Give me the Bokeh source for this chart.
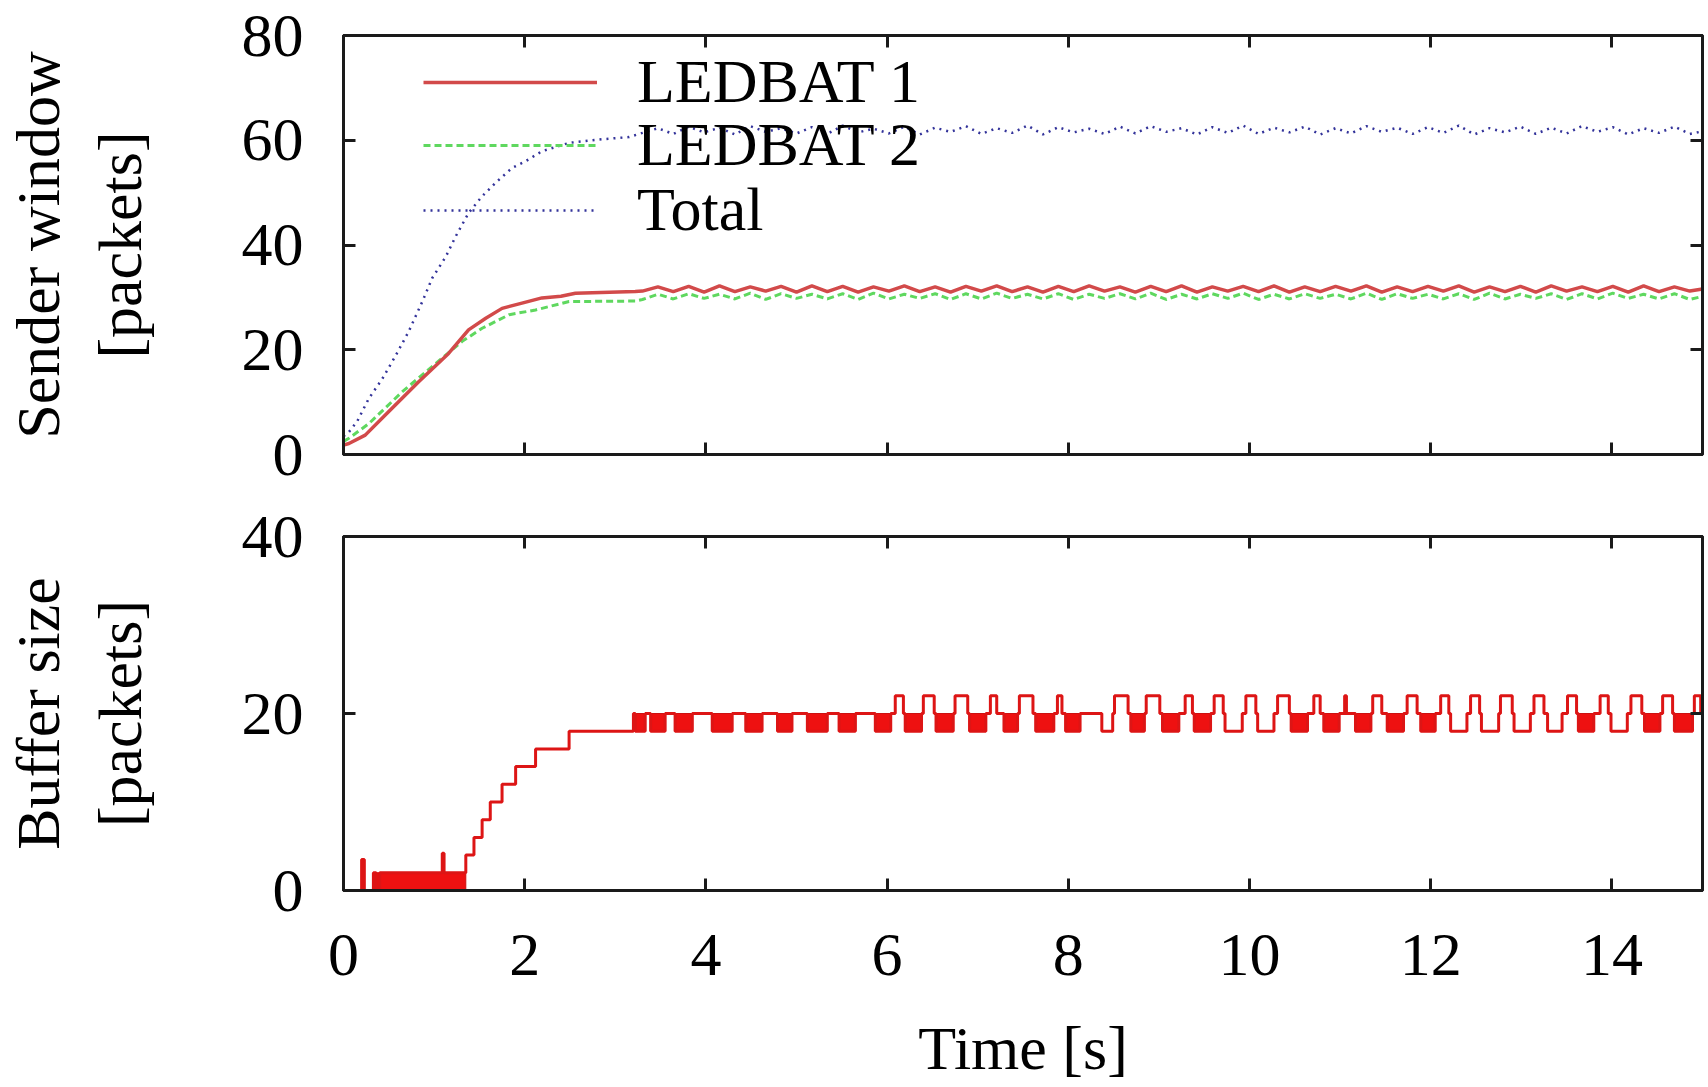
from bokeh.plotting import figure
from bokeh.layouts import column
from bokeh.models import LinearAxis, FixedTicker, Legend, LegendItem, Range1d, CustomJSTickFormatter
from bokeh.embed import file_html
from bokeh.resources import INLINE

FONT = "Liberation Serif"

# ---------------- data ----------------
x_ticks = [0, 2, 4, 6, 8, 10, 12, 14]
top_y_ticks = [0, 20, 40, 60, 80]
bot_y_ticks = [0, 20, 40]

series_names = ["LEDBAT 1", "LEDBAT 2", "Total"]

# start-up phase
red_ramp_t = [0.0, 0.06, 0.24, 0.50, 0.83, 1.16, 1.38, 1.57, 1.75, 1.97, 2.19, 2.40, 2.56, 3.22]
red_ramp_v = [1.8, 2.1, 3.7, 8.2, 13.9, 19.3, 23.8, 26.0, 27.9, 28.9, 29.9, 30.2, 30.8, 31.1]

green_ramp_t = [0.0, 0.06, 0.28, 0.65, 1.02, 1.31, 1.53, 1.83, 2.12, 2.49, 3.22]
green_ramp_v = [2.5, 3.1, 5.9, 12.0, 17.4, 21.6, 24.1, 26.7, 27.6, 29.2, 29.3]

total_ramp_t = [0.0, 0.06, 0.15, 0.28, 0.43, 0.57, 0.72, 0.87, 0.98, 1.13, 1.24, 1.38,
                1.53, 1.68, 1.86, 2.01, 2.19, 2.49, 2.86, 3.15]
total_ramp_v = [3.5, 4.3, 6.3, 10.7, 14.5, 18.7, 23.5, 29.2, 33.7, 37.8, 41.7, 46.1,
                49.3, 51.9, 54.7, 56.0, 57.9, 59.5, 60.2, 60.6]

# steady phase
osc_t = [3.30, 3.47, 3.64, 3.81, 3.98, 4.15, 4.32, 4.49, 4.66, 4.83,
         5.00, 5.17, 5.34, 5.51, 5.68, 5.85, 6.02, 6.19, 6.36, 6.53,
         6.70, 6.87, 7.04, 7.21, 7.38, 7.55, 7.72, 7.89, 8.06, 8.23,
         8.40, 8.57, 8.74, 8.91, 9.08, 9.25, 9.42, 9.59, 9.76, 9.93,
         10.10, 10.27, 10.44, 10.61, 10.78, 10.95, 11.12, 11.29, 11.46, 11.63,
         11.80, 11.97, 12.14, 12.31, 12.48, 12.65, 12.82, 12.99, 13.16, 13.33,
         13.50, 13.67, 13.84, 14.01, 14.18, 14.35, 14.52, 14.69, 14.86, 15.00]
red_osc = [31.2, 32.0, 31.1, 32.1, 31.0, 32.2, 31.1, 32.0, 31.2, 32.1,
           31.0, 32.2, 31.1, 32.1, 31.0, 32.0, 31.2, 32.2, 31.1, 32.0,
           31.0, 32.1, 31.2, 32.2, 31.1, 32.0, 31.0, 32.1, 31.1, 32.2,
           31.2, 32.0, 31.0, 32.1, 31.1, 32.2, 31.0, 32.0, 31.2, 32.1,
           31.1, 32.2, 31.0, 32.0, 31.1, 32.1, 31.2, 32.2, 31.0, 32.0,
           31.1, 32.1, 31.2, 32.2, 31.0, 32.0, 31.1, 32.1, 31.0, 32.2,
           31.2, 32.0, 31.1, 32.1, 31.0, 32.2, 31.1, 32.0, 31.2, 31.6]
green_osc = [29.6, 30.6, 29.7, 30.7, 29.8, 30.6, 29.7, 30.8, 29.6, 30.7,
             29.8, 30.6, 29.7, 30.7, 29.6, 30.8, 29.7, 30.6, 29.8, 30.7,
             29.6, 30.7, 29.7, 30.8, 29.8, 30.6, 29.7, 30.7, 29.6, 30.6,
             29.8, 30.7, 29.7, 30.8, 29.6, 30.6, 29.7, 30.7, 29.8, 30.8,
             29.6, 30.6, 29.7, 30.7, 29.8, 30.6, 29.7, 30.8, 29.6, 30.7,
             29.8, 30.6, 29.7, 30.7, 29.6, 30.8, 29.7, 30.6, 29.8, 30.7,
             29.6, 30.7, 29.7, 30.8, 29.8, 30.6, 29.7, 30.7, 29.6, 30.2]
total_osc = [61.4, 62.3, 61.2, 62.6, 61.5, 62.4, 61.1, 62.7, 61.6, 62.3,
             61.3, 62.5, 61.2, 62.8, 61.5, 62.2, 61.3, 62.6, 61.1, 62.4,
             61.6, 62.7, 61.2, 62.3, 61.4, 62.8, 61.1, 62.5, 61.5, 62.2,
             61.2, 62.6, 61.3, 62.7, 61.6, 62.3, 61.1, 62.5, 61.4, 62.8,
             61.2, 62.4, 61.5, 62.6, 61.1, 62.3, 61.3, 62.7, 61.6, 62.4,
             61.2, 62.5, 61.4, 62.8, 61.1, 62.3, 61.5, 62.6, 61.2, 62.4,
             61.3, 62.7, 61.6, 62.5, 61.1, 62.3, 61.4, 62.6, 61.2, 61.7]

# buffer occupancy: change points (value holds until next time)
buf_t = [0.00, 0.20, 0.23, 0.33, 0.36, 0.40, 1.09, 1.11, 1.35, 1.44, 1.53, 1.62, 1.75, 1.90, 2.12, 2.49,
         3.20, 3.22, 3.33, 3.39, 3.55, 3.66, 3.85, 4.07, 4.29, 4.44, 4.62, 4.79, 4.95, 5.12, 5.34,
         5.47, 5.65, 5.87, 6.04, 6.09, 6.18, 6.20, 6.38, 6.40, 6.52, 6.54, 6.73, 6.75, 6.89, 6.91,
         7.09, 7.14, 7.21, 7.29, 7.44, 7.46, 7.61, 7.64, 7.84, 7.88, 7.93, 7.97, 8.13, 8.37, 8.49,
         8.51, 8.66, 8.69, 8.84, 8.86, 9.01, 9.04, 9.22, 9.29, 9.37, 9.39, 9.57, 9.61, 9.71, 9.73,
         9.92, 9.96, 10.07, 10.09, 10.27, 10.31, 10.44, 10.46, 10.64, 10.71, 10.78, 10.82, 10.99,
         11.05, 11.07, 11.17, 11.34, 11.36, 11.46, 11.52, 11.70, 11.74, 11.85, 11.89, 12.05, 12.11,
         12.20, 12.22, 12.40, 12.44, 12.54, 12.56, 12.75, 12.77, 12.90, 12.92, 13.10, 13.14, 13.25,
         13.29, 13.45, 13.51, 13.61, 13.63, 13.80, 13.87, 13.96, 13.99, 14.17, 14.21, 14.33, 14.36,
         14.53, 14.56, 14.67, 14.69, 14.89, 14.91, 14.98, 15.00]
buf_v = [0, 3.5, 0, 2, 0, 2, 4.2, 2, 4, 6, 8, 10, 12, 14, 16, 18,
         20, 18, 20, 18, 20, 18, 20, 18, 20, 18, 20, 18, 20, 18, 20,
         18, 20, 18, 20, 22, 20, 18, 20, 22, 20, 18, 20, 22, 20, 18,
         20, 22, 20, 18, 20, 22, 20, 18, 20, 22, 20, 18, 20, 18, 20,
         22, 20, 18, 20, 22, 20, 18, 20, 22, 20, 18, 20, 22, 20, 18,
         20, 22, 20, 18, 20, 22, 20, 18, 20, 22, 20, 18, 20,
         22, 20, 18, 20, 22, 20, 18, 20, 22, 20, 18, 20, 22,
         20, 18, 20, 22, 20, 18, 20, 22, 20, 18, 20, 22, 20,
         18, 20, 22, 20, 18, 20, 22, 20, 18, 20, 22, 20, 18,
         20, 22, 20, 18, 20, 22, 20, 20]
# dips that appear as solid blocks (dense oscillation), by start time
filled_dips = [3.22, 3.39, 3.66, 4.07, 4.44, 4.79, 5.12, 5.47, 5.87, 6.20, 6.54, 6.91, 7.29, 7.64,
               7.97, 8.69, 9.04, 9.39, 10.46, 10.82, 11.17, 11.52, 11.89, 13.63, 14.36, 14.69]
# early dense block of 0/2 toggling
block_start, block_end, block_low, block_high = 0.36, 1.35, 0, 2

# ---------------- build ----------------
red_t = red_ramp_t + osc_t
red_v = red_ramp_v + red_osc
green_t = green_ramp_t + osc_t
green_v = green_ramp_v + green_osc
total_t = total_ramp_t + osc_t
total_v = total_ramp_v + total_osc

fill_l, fill_r, fill_b, fill_h = [block_start], [block_end], [block_low], [block_high]
for s in filled_dips:
    i = buf_t.index(s)
    fill_l.append(buf_t[i]); fill_r.append(buf_t[i + 1])
    fill_b.append(buf_v[i]); fill_h.append(buf_v[i - 1])

AX = "#1a1a1a"
BLANK = CustomJSTickFormatter(code="return ''")


def style_axis(ax, show_labels, standoff=40):
    ax.axis_line_color = AX
    ax.axis_line_width = 3
    ax.major_tick_in = 12
    ax.major_tick_out = 0
    ax.major_tick_line_color = AX
    ax.major_tick_line_width = 3
    ax.minor_tick_line_color = None
    ax.major_label_text_font = FONT
    ax.major_label_text_color = "black"
    ax.major_label_text_font_size = "62px"
    if show_labels:
        ax.major_label_standoff = standoff
    else:
        ax.formatter = BLANK
        ax.major_label_standoff = 0
    ax.axis_label_text_font = FONT
    ax.axis_label_text_font_style = "normal"
    ax.axis_label_text_font_size = "62px"
    ax.axis_label_text_color = "black"


def make_fig(frame_h, y_end, yticks, min_top, min_bottom, show_x, ylabel, xlabel=None):
    p = figure(frame_width=1359, frame_height=frame_h,
               x_range=Range1d(0, 15), y_range=Range1d(0, y_end),
               output_backend="svg", toolbar_location=None,
               min_border_left=335, min_border_right=4,
               min_border_top=min_top, min_border_bottom=min_bottom)
    p.grid.visible = False
    p.outline_line_color = AX
    p.outline_line_width = 3
    p.outline_line_alpha = 1
    p.background_fill_color = "white"
    p.border_fill_color = "white"
    xa = p.xaxis[0]
    ya = p.yaxis[0]
    xa.ticker = FixedTicker(ticks=x_ticks)
    ya.ticker = FixedTicker(ticks=yticks)
    style_axis(xa, show_x, standoff=44)
    style_axis(ya, True, standoff=40)
    ya.axis_label = ylabel
    ya.axis_label_standoff = 85
    if xlabel:
        xa.axis_label = xlabel
        xa.axis_label_standoff = 36
    top_ax = LinearAxis(ticker=FixedTicker(ticks=x_ticks))
    style_axis(top_ax, False)
    p.add_layout(top_ax, "above")
    right_ax = LinearAxis(ticker=FixedTicker(ticks=yticks))
    style_axis(right_ax, False)
    p.add_layout(right_ax, "right")
    return p


p1 = make_fig(419, 80, top_y_ticks, 35, 41, False, "Sender window\n[packets]")
r_green = p1.line(green_t, green_v, line_color="#5fd85f", line_width=3, line_dash="7 4")
r_total = p1.line(total_t, total_v, line_color="#33339a", line_width=2.5, line_dash="2 5")
r_red = p1.line(red_t, red_v, line_color="#d24a4a", line_width=3.5)

legend_rows = [(series_names[0], r_red, 337), (series_names[1], r_green, 274), (series_names[2], r_total, 209)]
for label, rend, ypos in legend_rows:
    lg = Legend(items=[LegendItem(label=label, renderers=[rend])], location=(80, ypos),
                background_fill_alpha=0, border_line_alpha=0, padding=0, margin=0,
                glyph_width=174, glyph_height=64, label_height=64, label_standoff=40,
                label_text_font=FONT, label_text_font_size="62px",
                label_text_color="black", label_text_baseline="middle")
    p1.add_layout(lg)

p2 = make_fig(354, 40, bot_y_ticks, 41, 40, True, "Buffer size\n[packets]", "Time [s]")
p2.quad(left=fill_l, right=fill_r, bottom=fill_b, top=fill_h, fill_color="#ee1111",
        line_color="#cc1111", line_width=1)
p2.step(buf_t, buf_v, mode="after", line_color="#dd1515", line_width=3)

layout = column(p1, p2, spacing=0)
open("out.html", "w").write(file_html(layout, INLINE))
